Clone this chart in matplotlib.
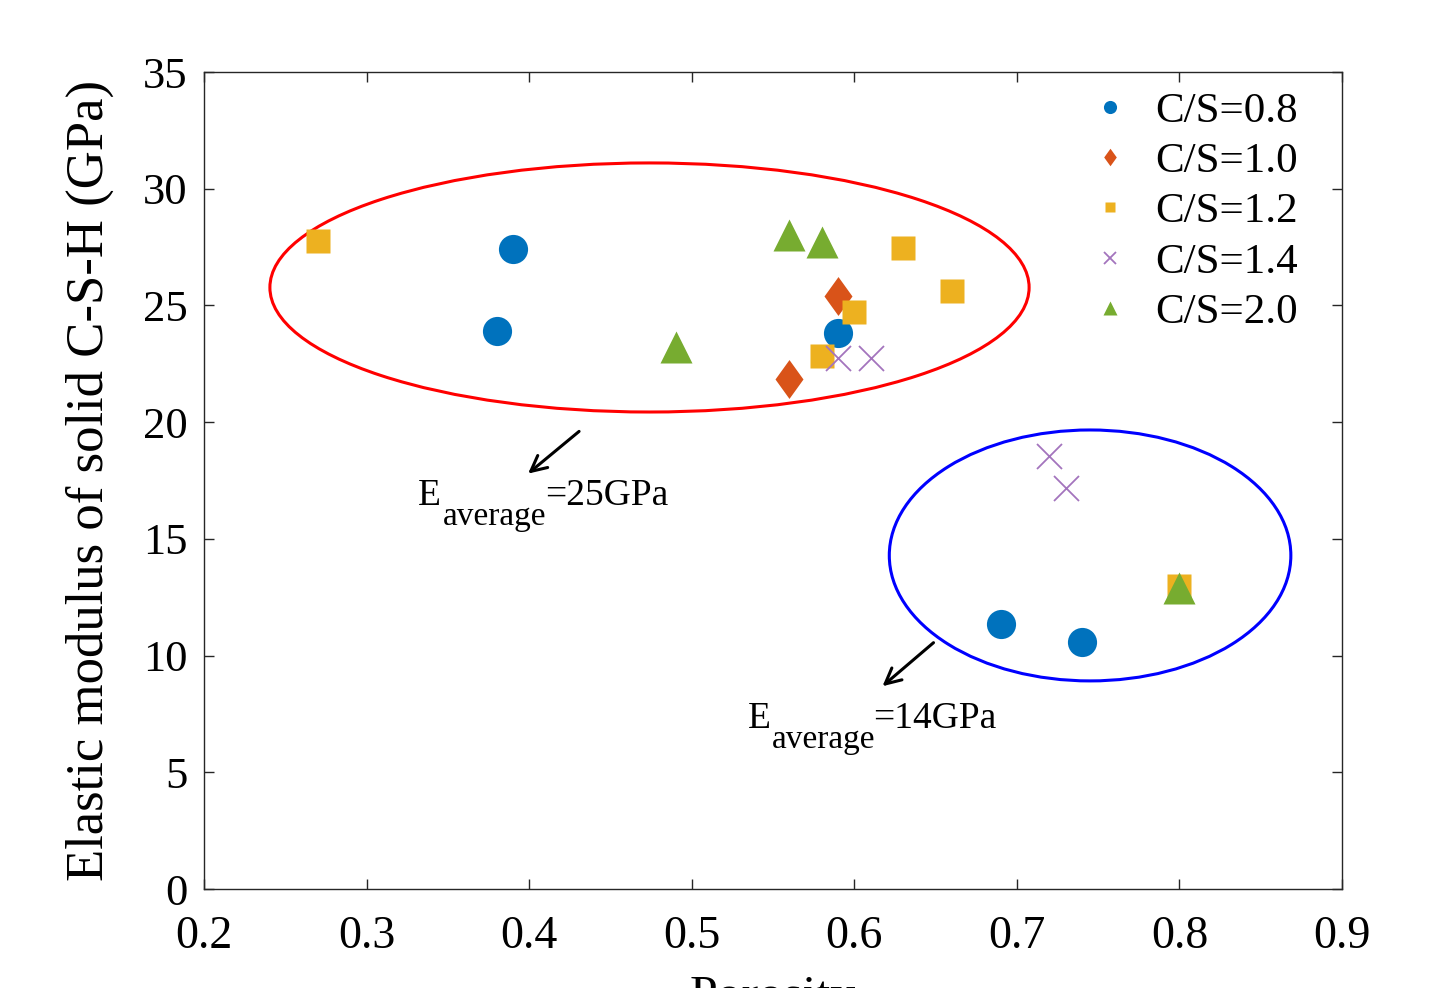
import numpy as np
import matplotlib.pyplot as plt
from matplotlib.patches import Ellipse

plt.rcParams['font.family'] = ['Liberation Serif', 'DejaVu Serif']

# data
x08 = [0.39, 0.38, 0.59, 0.69, 0.74]
y08 = [27.4, 23.9, 23.8, 11.35, 10.6]
x10 = [0.59, 0.56]
y10 = [25.4, 21.85]
x12 = [0.27, 0.63, 0.66, 0.60, 0.58, 0.80]
y12 = [27.75, 27.45, 25.6, 24.7, 22.85, 13.0]
x14 = [0.59, 0.61, 0.72, 0.73]
y14 = [22.75, 22.75, 18.55, 17.2]
x20 = [0.56, 0.58, 0.49, 0.80]
y20 = [28.0, 27.7, 23.2, 12.9]

fig = plt.figure(figsize=(14.3, 9.88), dpi=100)
ax = fig.add_axes([0.1427, 0.1002, 0.7958, 0.8269])

diamond = [(0, 1), (0.72, 0), (0, -1), (-0.72, 0), (0, 1)]
ax.plot(x08, y08, 'o', color='#0072BD', ms=21, mec='none', label='C/S=0.8')
ax.plot(x10, y10, marker=diamond, ls='none', color='#D95319', ms=28, mec='none', label='C/S=1.0')
ax.plot(x12, y12, 's', color='#EDB120', ms=17, mec='none', label='C/S=1.2')
ax.plot(x14, y14, 'x', color='#A374BD', ms=18, mew=1.3, label='C/S=1.4')
ax.plot(x20, y20, '^', color='#77AC30', ms=23, mec='none', label='C/S=2.0')

ax.add_patch(Ellipse((0.474, 25.77), 0.467, 10.67, fill=False, ec='#FF0000', lw=2.2))
ax.add_patch(Ellipse((0.745, 14.29), 0.247, 10.75, fill=False, ec='#0000FF', lw=2.2))

ax.annotate('', xy=(0.398, 17.72), xytext=(0.432, 19.68),
            arrowprops=dict(arrowstyle='->', color='black', lw=2.2, mutation_scale=28))
ax.annotate('', xy=(0.616, 8.61), xytext=(0.650, 10.63),
            arrowprops=dict(arrowstyle='->', color='black', lw=2.2, mutation_scale=28))

# E_average labels (main text + subscript)
ax.text(0.3316, 16.45, 'E', fontsize=27, va='baseline')
ax.text(0.3470, 15.60, 'average', fontsize=24, va='baseline')
ax.text(0.4097, 16.45, '=25GPa', fontsize=27, va='baseline')
ax.text(0.5346, 6.90, 'E', fontsize=27, va='baseline')
ax.text(0.5493, 6.04, 'average', fontsize=24, va='baseline')
ax.text(0.6114, 6.90, '=14GPa', fontsize=27, va='baseline')

ax.set_xlim(0.2, 0.9)
ax.set_ylim(0, 35)
ax.set_xticks(np.arange(0.2, 0.91, 0.1))
ax.set_xticklabels(['0.2', '0.3', '0.4', '0.5', '0.6', '0.7', '0.8', '0.9'])
ax.set_yticks(range(0, 36, 5))
ax.tick_params(direction='in', top=True, right=True, length=7, width=1, color='#262626')
ax.tick_params(axis='x', labelsize=33, pad=19)
ax.tick_params(axis='y', labelsize=32, pad=12)
for s in ax.spines.values():
    s.set_linewidth(1)
    s.set_color('#262626')

ax.set_xlabel('Porosity', fontsize=36, labelpad=12)
ax.set_ylabel('Elastic modulus of solid C-S-H (GPa)', fontsize=38)
ax.yaxis.set_label_coords(-0.079, 0.5)

ax.legend(loc='upper right', bbox_to_anchor=(0.9613, 0.976), frameon=False,
          fontsize=31, markerscale=0.45, handlelength=1.0, labelspacing=0.26,
          handletextpad=0.55, borderaxespad=0, borderpad=0)

fig.savefig('out.png', dpi=100)
